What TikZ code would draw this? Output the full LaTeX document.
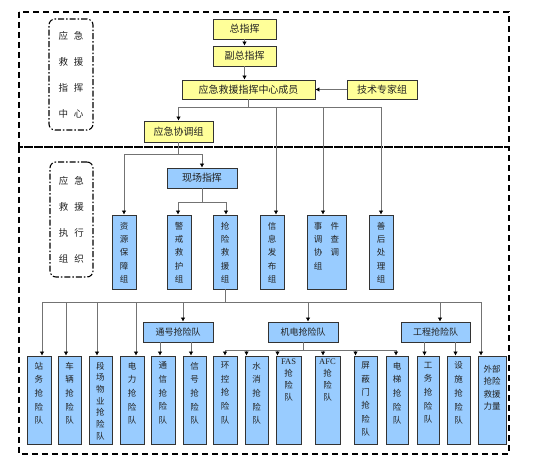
\documentclass[tikz,border=0pt]{standalone}
\usepackage{fontspec}
\setmainfont{Noto Sans CJK SC}
\newfontfamily\latf{Liberation Serif}
\usetikzlibrary{arrows.meta}
\definecolor{ybg}{HTML}{FFFF99}
\definecolor{bbg}{HTML}{99CCFF}
\definecolor{ink}{HTML}{222222}
\newcommand\vst[5]{\parbox[c][#1][t]{#2}{\centering\fontsize{8.5}{#3}\selectfont\vspace*{#4}#5\par}}
\begin{document}
\begin{tikzpicture}[x=1pt,y=-1pt,
  outerframe/.style={line width=1.4pt, dash pattern=on 6pt off 4pt},
  lbl/.style={draw, line width=1.1pt, dash pattern=on 6pt off 2pt on 1.5pt off 2pt, rounded corners=6pt, align=center, font=\fontsize{9.5}{26}\selectfont, text=ink},
  cbox/.style={draw=black!80, line width=0.8pt, inner sep=0pt, text=ink},
  ybox/.style={cbox, fill=ybg, font=\fontsize{10}{12}\selectfont},
  hbox/.style={cbox, fill=bbg, font=\fontsize{10}{12}\selectfont},
  mbox/.style={cbox, fill=bbg, font=\fontsize{9}{11}\selectfont},
  vbox/.style={cbox, fill=bbg},
  conn/.style={draw=black!55, line width=0.7pt},
  arr/.style={conn, -{Latex[length=4pt,width=4.5pt,color=black]}},
]
\useasboundingbox (0,0) rectangle (542,457);

% frames
\draw[outerframe] (19,12) rectangle (509,147);
\draw[outerframe] (19,147) rectangle (509,454);

% side labels
\node[lbl, minimum width=44pt, minimum height=111pt] (l1) at (71,74.5) {应\hspace{6pt}急\\救\hspace{6pt}援\\指\hspace{6pt}挥\\中\hspace{6pt}心};
\node[lbl, minimum width=43pt, minimum height=115pt] (l2) at (71.5,219.5) {应\hspace{6pt}急\\救\hspace{6pt}援\\执\hspace{6pt}行\\组\hspace{6pt}织};

% command centre
\node[ybox, minimum width=63pt, minimum height=20pt] (zz) at (244.5,29) {总指挥};
\node[ybox, minimum width=63pt, minimum height=20pt] (fz) at (244.5,56) {副总指挥};
\node[ybox, minimum width=133pt, minimum height=19pt] (cy) at (248.5,89.5) {应急救援指挥中心成员};
\node[ybox, minimum width=70pt, minimum height=19pt] (js) at (382,89.5) {技术专家组};
\node[ybox, minimum width=69pt, minimum height=21pt] (xt) at (178.5,131.5) {应急协调组};

% execution groups
\node[hbox, minimum width=70pt, minimum height=20pt] (xc) at (202,178) {现场指挥};
\node[vbox, minimum width=24pt, minimum height=74pt] (zy) at (124,252) {\vst{74pt}{12pt}{13.3pt}{7pt}{资\\源\\保\\障\\组}};
\node[vbox, minimum width=24pt, minimum height=74pt] (jj) at (179,252) {\vst{74pt}{12pt}{13.3pt}{7pt}{警\\戒\\救\\护\\组}};
\node[vbox, minimum width=24pt, minimum height=74pt] (qx) at (225,252) {\vst{74pt}{12pt}{13.3pt}{7pt}{抢\\险\\救\\援\\组}};
\node[vbox, minimum width=24pt, minimum height=74pt] (xx) at (272,252) {\vst{74pt}{12pt}{13.3pt}{7pt}{信\\息\\发\\布\\组}};
\node[vbox, minimum width=39pt, minimum height=74pt] (sj) at (326.5,252) {\vst{74pt}{30pt}{13.3pt}{7pt}{事\hspace{8.5pt}件\\调\hspace{8.5pt}查\\协\hspace{8.5pt}调\\组\hspace{8.5pt}\phantom{组}}};
\node[vbox, minimum width=24pt, minimum height=74pt] (sh) at (381,252) {\vst{74pt}{12pt}{13.3pt}{7pt}{善\\后\\处\\理\\组}};

% middle teams
\node[mbox, minimum width=70pt, minimum height=20pt] (th) at (178,332) {通号抢险队};
\node[mbox, minimum width=70pt, minimum height=20pt] (jd) at (303,332) {机电抢险队};
\node[mbox, minimum width=69pt, minimum height=20pt] (gc) at (435.5,332) {工程抢险队};

% bottom teams
\node[vbox, minimum width=24pt, minimum height=88pt] (zw) at (39,400) {\vst{88pt}{12pt}{13.7pt}{6pt}{站\\务\\抢\\险\\队}};
\node[vbox, minimum width=23pt, minimum height=88pt] (cl) at (69.5,400) {\vst{88pt}{12pt}{13.7pt}{6pt}{车\\辆\\抢\\险\\队}};
\node[vbox, minimum width=23pt, minimum height=88pt] (dc) at (100.5,400) {\vst{88pt}{12pt}{11.7pt}{6pt}{段\\场\\物\\业\\抢\\险\\队}};
\node[vbox, minimum width=24pt, minimum height=88pt] (dl) at (132,400) {\vst{88pt}{12pt}{13.7pt}{6pt}{电\\力\\抢\\险\\队}};
\node[vbox, minimum width=24pt, minimum height=88pt] (tx) at (163,400) {\vst{88pt}{12pt}{13.7pt}{6pt}{通\\信\\抢\\险\\队}};
\node[vbox, minimum width=23pt, minimum height=88pt] (xh) at (194.5,400) {\vst{88pt}{12pt}{13.7pt}{6pt}{信\\号\\抢\\险\\队}};
\node[vbox, minimum width=24pt, minimum height=88pt] (hk) at (225,400) {\vst{88pt}{12pt}{13.7pt}{6pt}{环\\控\\抢\\险\\队}};
\node[vbox, minimum width=23pt, minimum height=88pt] (sx) at (256.5,400) {\vst{88pt}{12pt}{13.7pt}{6pt}{水\\消\\抢\\险\\队}};
\node[vbox, minimum width=25pt, minimum height=88pt] (fas) at (288.5,400) {\vst{88pt}{20pt}{12pt}{3pt}{{\latf FAS}\\抢\\险\\队}};
\node[vbox, minimum width=25pt, minimum height=88pt] (afc) at (327.5,400) {\vst{88pt}{20pt}{12pt}{3pt}{{\latf AFC}\\抢\\险\\队}};
\node[vbox, minimum width=23pt, minimum height=88pt] (pb) at (365.5,400) {\vst{88pt}{12pt}{13.4pt}{6pt}{屏\\蔽\\门\\抢\\险\\队}};
\node[vbox, minimum width=22pt, minimum height=88pt] (dt) at (397,400) {\vst{88pt}{12pt}{13.7pt}{6pt}{电\\梯\\抢\\险\\队}};
\node[vbox, minimum width=22pt, minimum height=88pt] (gw) at (428,400) {\vst{88pt}{12pt}{13.7pt}{6pt}{工\\务\\抢\\险\\队}};
\node[vbox, minimum width=23pt, minimum height=88pt] (ss) at (458.5,400) {\vst{88pt}{12pt}{13.7pt}{6pt}{设\\施\\抢\\险\\队}};
\node[vbox, minimum width=28pt, minimum height=88pt] (wb) at (492,400) {\vst{88pt}{20pt}{12.5pt}{9pt}{外部\\抢险\\救援\\力量}};

% connectors: command centre
\draw[arr] (zz.south) -- (fz.north);
\draw[arr] (fz.south) -- (fz.south |- cy.north);
\draw[arr] (js.west) -- (cy.east);
\draw[arr] (cy.south) -- ++(0,8) -| (xt.north);
\draw[arr] (cy.south) -- ++(0,8) -| ([xshift=4pt]xx.north);
\draw[arr] (cy.south) -- ++(0,8) -| ([xshift=-3.5pt]sj.north);
\draw[arr] (cy.south) -- ++(0,8) -| (sh.north);

% connectors: execution groups
\draw[arr] (xt.south) -- ++(0,12) -| (zy.north);
\draw[arr] (xt.south) -- ++(0,12) -| (xc.north);
\draw[arr] (xc.south) -- ++(0,14) -| ([xshift=-1pt]jj.north);
\draw[arr] (xc.south) -- ++(0,14) -| ([xshift=1pt]qx.north);

% connectors: teams
\draw[arr] (qx.south) -- ++(0,13) -| ([xshift=3pt]zw.north);
\draw[arr] (qx.south) -- ++(0,13) -| ([xshift=-3.5pt]cl.north);
\draw[arr] (qx.south) -- ++(0,13) -| ([xshift=-3.5pt]dc.north);
\draw[arr] (qx.south) -- ++(0,13) -| ([xshift=4pt]dl.north);
\draw[arr] (qx.south) -- ++(0,13) -| ([xshift=5pt]th.north);
\draw[arr] (qx.south) -- ++(0,13) -| ([xshift=5pt]jd.north);
\draw[arr] (qx.south) -- ++(0,13) -| ([xshift=4.5pt]gc.north);
\draw[arr] (qx.south) -- ++(0,13) -| ([xshift=-11pt]wb.north);

\draw[arr] ([xshift=-3pt]tx.north |- th.south) -- ([xshift=-3pt]tx.north);
\draw[arr] ([xshift=-3.5pt]xh.north |- th.south) -- ([xshift=-3.5pt]xh.north);

\draw[arr] (jd.south) -- ++(0,8) -| (hk.north);
\draw[arr] (jd.south) -- ++(0,8) -| ([xshift=-10pt]sx.north);
\draw[arr] (jd.south) -- ++(0,8) -| ([xshift=-11pt]fas.north);
\draw[arr] (jd.south) -- ++(0,8) -| ([xshift=-4.5pt]afc.north);
\draw[arr] (jd.south) -- ++(0,8) -| ([xshift=-10pt]pb.north);
\draw[arr] (jd.south) -- ++(0,8) -| ([xshift=-1pt]dt.north);

\draw[arr] ([xshift=-3.5pt]gw.north |- gc.south) -- ([xshift=-3.5pt]gw.north);
\draw[arr] ([xshift=-3pt]ss.north |- gc.south) -- ([xshift=-3pt]ss.north);
\end{tikzpicture}
\end{document}
